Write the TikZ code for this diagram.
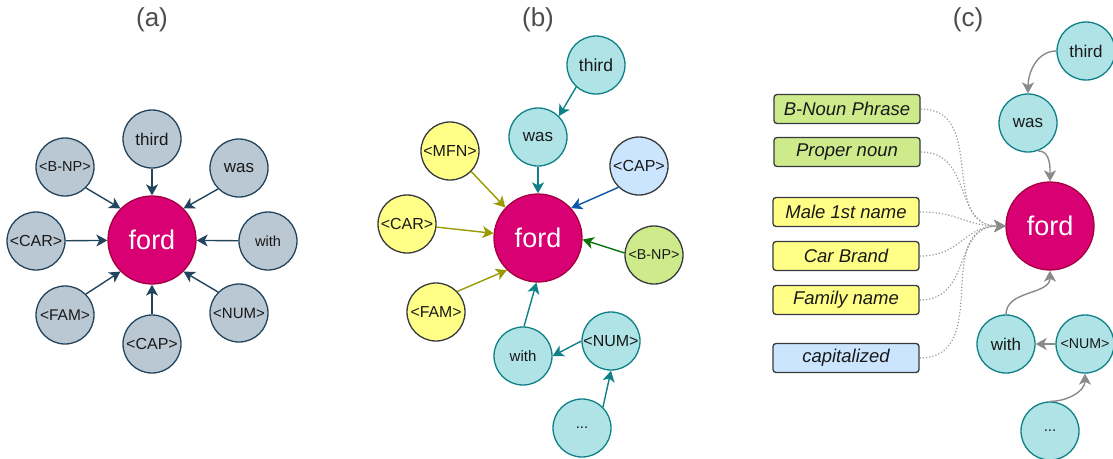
\documentclass[tikz,border=0pt]{standalone}
\usepackage{fontspec}
\setmainfont{Liberation Sans}
\usetikzlibrary{arrows.meta}

\definecolor{slatefill}{HTML}{BAC8D3}
\definecolor{slateline}{HTML}{23445D}
\definecolor{fordfill}{HTML}{D80073}
\definecolor{fordline}{HTML}{A50040}
\definecolor{tealfill}{HTML}{B0E3E6}
\definecolor{tealline}{HTML}{0E8088}
\definecolor{yelfill}{HTML}{FFFF88}
\definecolor{bluefill}{HTML}{CCE5FF}
\definecolor{greenfill}{HTML}{CDEB8B}
\definecolor{darkline}{HTML}{36393D}
\definecolor{olivearrow}{HTML}{999900}
\definecolor{capblue}{HTML}{0A56A8}
\definecolor{npgreen}{HTML}{0A720A}
\definecolor{greyarrow}{HTML}{8A8A8A}
\definecolor{hintgrey}{HTML}{9A9A9A}
\definecolor{titlegrey}{HTML}{4D4D4D}

\newcommand\fsz[1]{\fontsize{#1}{#1}\selectfont}

\begin{document}
\begin{tikzpicture}[x=1pt,y=-1pt,
  tok/.style={circle, minimum size=58pt, inner sep=0pt, line width=1.3pt, text=black!90},
  slate/.style={tok, fill=slatefill, draw=slateline},
  tealtok/.style={tok, fill=tealfill, draw=tealline},
  yeltok/.style={tok, fill=yelfill, draw=darkline},
  bluetok/.style={tok, fill=bluefill, draw=darkline},
  greentok/.style={tok, fill=greenfill, draw=darkline},
  hub/.style={circle, minimum size=88pt, inner sep=0pt, fill=fordfill, draw=fordline,
    line width=1.3pt, text=white, font=\fsz{27}},
  arr/.style={-{Stealth[length=11pt,width=12pt,inset=3pt]}, line width=1.4pt},
  tag/.style={rounded corners=3pt, minimum width=146pt, minimum height=29pt, inner sep=0pt,
    draw=darkline, line width=1.3pt, text=black!90, font=\itshape\fsz{18.5}},
  hintline/.style={dotted, draw=hintgrey, line width=1.2pt,
    -{Stealth[length=11pt,width=12pt,inset=3pt,fill=greyarrow,color=greyarrow]}},
  paneltitle/.style={text=titlegrey, font=\fsz{26}}
]
\useasboundingbox (0,0) rectangle (1113,458);

% ---------- panel (a) ----------
\node[paneltitle] (ta) at (152,20) {(a)};
\node[hub] (fa) at (152,240) {ford};
\node[slate, font=\fsz{17}] (a-third) at (152,139) {third};
\node[slate, font=\fsz{17}] (a-was) at (239,168) {was};
\node[slate, font=\fsz{14.6}] (a-with) at (268,241) {with};
\node[slate, font=\fsz{15}] (a-num) at (239,313) {<NUM>};
\node[slate, font=\fsz{16}] (a-cap) at (152,344) {<CAP>};
\node[slate, font=\fsz{15.5}] (a-fam) at (65,315) {<FAM>};
\node[slate, font=\fsz{16}] (a-car) at (36,241) {<CAR>};
\node[slate, font=\fsz{14.5}] (a-bnp) at (65,167) {<B-NP>};

\begin{scope}[arr, draw=slateline, color=slateline]
  \draw (a-third) -- (fa);
  \draw (a-was.225) -- (fa.45);
  \draw (a-with) -- (fa);
  \draw (a-num.135) -- (fa.315);
  \draw (a-cap) -- (fa);
  \draw (a-fam.45) -- (fa.225);
  \draw (a-car) -- (fa);
  \draw (a-bnp.315) -- (fa.135);
\end{scope}

% ---------- panel (b) ----------
\node[paneltitle] (tb) at (538,20) {(b)};
\node[hub] (fb) at (538,238) {ford};
\node[tealtok, font=\fsz{17.5}] (b-third) at (596,65) {third};
\node[tealtok, font=\fsz{17}] (b-was) at (538,137) {was};
\node[yeltok, font=\fsz{16}] (b-mfn) at (450,151) {<MFN>};
\node[yeltok, font=\fsz{16}] (b-car) at (407,224) {<CAR>};
\node[yeltok, font=\fsz{15.8}] (b-fam) at (436,312) {<FAM>};
\node[bluetok, font=\fsz{16}] (b-cap) at (639,166) {<CAP>};
\node[greentok, font=\fsz{14.3}] (b-bnp) at (654,255) {<B-NP>};
\node[tealtok, font=\fsz{15}] (b-with) at (523,356) {with};
\node[tealtok, font=\fsz{16}] (b-num) at (611,341) {<NUM>};
\node[tealtok, font=\fsz{15}] (b-dots) at (582,428) {...};

\begin{scope}[arr, draw=tealline, color=tealline]
  \draw (b-third.228) -- (b-was.45);
  \draw (b-was) -- (fb);
  \draw (b-with.88) -- (fb.268);
  \draw (b-num.west) -- (b-with.east);
  \draw (b-dots.45) -- (b-num.south);
\end{scope}
\begin{scope}[arr, draw=olivearrow, color=olivearrow]
  \draw (b-mfn.316) -- (fb.137);
  \draw (b-car.354) -- (fb.174);
  \draw (b-fam.44) -- (fb.226);
\end{scope}
\draw[arr, draw=capblue, color=capblue] (b-cap.226) -- (fb.42);
\draw[arr, draw=npgreen, color=npgreen] (b-bnp.176) -- (fb.358);

% ---------- panel (c) ----------
\node[paneltitle] (tc) at (968,20) {(c)};
\node[hub] (fc) at (1050,226) {ford};
\node[tealtok, font=\fsz{17}] (c-third) at (1086,51) {third};
\node[tealtok, font=\fsz{17}] (c-was) at (1028,123) {was};
\node[tealtok, font=\fsz{17}] (c-with) at (1006,344) {with};
\node[tealtok, font=\fsz{14.2}] (c-num) at (1085,344) {<NUM>};
\node[tealtok, font=\fsz{15}] (c-dots) at (1050,431) {...};

\node[tag, fill=greenfill] (c-bnp) at (847,109) {B-Noun Phrase};
\node[tag, fill=greenfill] (c-prop) at (847,152) {Proper noun};
\node[tag, fill=yelfill] (c-male) at (846,212) {Male 1st name};
\node[tag, fill=yelfill] (c-brand) at (846,256) {Car Brand};
\node[tag, fill=yelfill] (c-fam) at (846,300) {Family name};
\node[tag, fill=bluefill] (c-cap) at (846,358) {capitalized};

% dotted feature links converging on the word node
\foreach \t in {c-bnp,c-prop,c-male,c-brand,c-fam,c-cap}
  \draw[hintline] (\t.east) to[out=0,in=180,looseness=1.2] (fc.west);

\begin{scope}[arr, draw=greyarrow, color=greyarrow]
  \draw (c-third.west) to[out=180,in=90] (c-was.north);
  \draw (c-was.290) to[out=0,in=90] (fc.north);
  \draw (c-with.north) to[out=90,in=-90] (fc.south);
  \draw (c-num.west) -- (c-with.east);
  \draw (c-dots.north) to[out=0,in=-90] (c-num.south);
\end{scope}
\end{tikzpicture}
\end{document}
